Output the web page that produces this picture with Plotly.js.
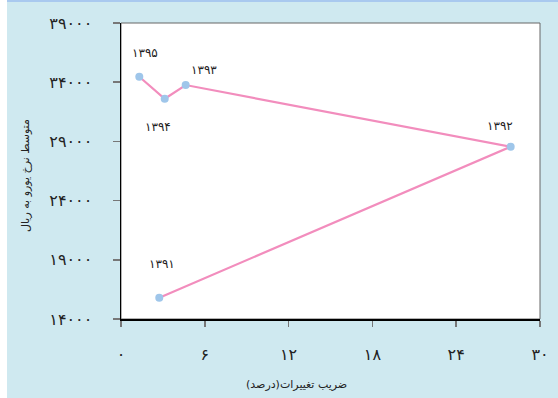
<!DOCTYPE html>
<html>
<head>
<meta charset="utf-8">
<script src="https://cdn.plot.ly/plotly-3.0.1.min.js"></script>
<style>
  body { margin: 0; background: #ffffff; }
  #topline { position: absolute; left: 7px; top: 0; width: 551px; height: 2px; background: #a9c9ef; }
  #chart { position: absolute; left: 7px; top: 0; width: 551px; height: 398px; }
</style>
</head>
<body>
<div id="chart"></div>
<div id="topline"></div>
<script>
// سال ها به ترتیب مسیر خط
var years = ['۱۳۹۱', '۱۳۹۲', '۱۳۹۳', '۱۳۹۴', '۱۳۹۵'];
var cv = [2.74, 27.9, 4.63, 3.13, 1.31];          // ضریب تغییرات (درصد)
var euro = [15800, 28550, 33760, 32600, 34460];    // متوسط نرخ یورو به ریال

var xTicks = [0, 6, 12, 18, 24, 30];
var xTickText = ['۰', '۶', '۱۲', '۱۸', '۲۴', '۳۰'];
var yTicks = [14000, 19000, 24000, 29000, 34000, 39000];
var yTickText = ['۱۴۰۰۰', '۱۹۰۰۰', '۲۴۰۰۰', '۲۹۰۰۰', '۳۴۰۰۰', '۳۹۰۰۰'];

// جابجایی برچسب سال ها نسبت به نقطه (پیکسل)
var shiftX = [3, -11, 18, -7, 6];
var shiftY = [34, 21, 15, -28, 24];

var font = 'DejaVu Sans, sans-serif';

var trace1 = {
  x: cv,
  y: euro,
  mode: 'lines+markers',
  type: 'scatter',
  line: { color: '#f28dbd', width: 2.2 },
  marker: { color: '#9fc6ea', size: 8 },
  hoverinfo: 'none'
};

var annotations = years.map(function (yr, i) {
  return {
    x: cv[i], y: euro[i], xref: 'x', yref: 'y',
    text: yr, showarrow: false,
    xshift: shiftX[i], yshift: shiftY[i],
    font: { family: font, size: 12, color: '#222' }
  };
});

annotations.push({
  x: 0.418, y: 0, xref: 'paper', yref: 'paper',
  yshift: -65, xanchor: 'center', yanchor: 'middle', showarrow: false,
  text: 'ضریب تغییرات(درصد)',
  font: { family: font, size: 11, color: '#222' }
});
annotations.push({
  x: 0, y: 0.5, xref: 'paper', yref: 'paper',
  xshift: -96, yshift: -5, xanchor: 'center', yanchor: 'middle',
  textangle: -90, showarrow: false,
  text: 'متوسط نرخ یورو به ریال',
  font: { family: font, size: 11, color: '#222' }
});

var layout = {
  width: 551,
  height: 398,
  margin: { l: 114, r: 18, t: 23, b: 79 },
  paper_bgcolor: '#cfe9f0',
  plot_bgcolor: '#ffffff',
  showlegend: false,
  xaxis: {
    range: [0, 30],
    tickvals: xTicks,
    ticktext: xTickText,
    ticks: 'outside', ticklen: 6, tickwidth: 1.5, tickcolor: '#777',
    ticklabelstandoff: 14,
    showgrid: false, zeroline: false,
    showline: true, linecolor: '#000', linewidth: 1.5,
    tickfont: { family: font, size: 16, color: '#222' }
  },
  yaxis: {
    range: [14000, 39000],
    tickvals: yTicks,
    ticktext: yTickText,
    ticks: 'outside', ticklen: 7, tickwidth: 1.5, tickcolor: '#777',
    ticklabelstandoff: 17,
    showgrid: false, zeroline: false,
    showline: true, linecolor: '#000', linewidth: 1.5,
    tickfont: { family: font, size: 16, color: '#222' }
  },
  shapes: [{
    type: 'rect', xref: 'paper', yref: 'paper',
    x0: 0, x1: 1, y0: 0, y1: 1,
    line: { color: '#666', width: 1 }, layer: 'below'
  }],
  annotations: annotations
};

Plotly.newPlot('chart', [trace1], layout, { displayModeBar: false, staticPlot: true });
</script>
</body>
</html>
